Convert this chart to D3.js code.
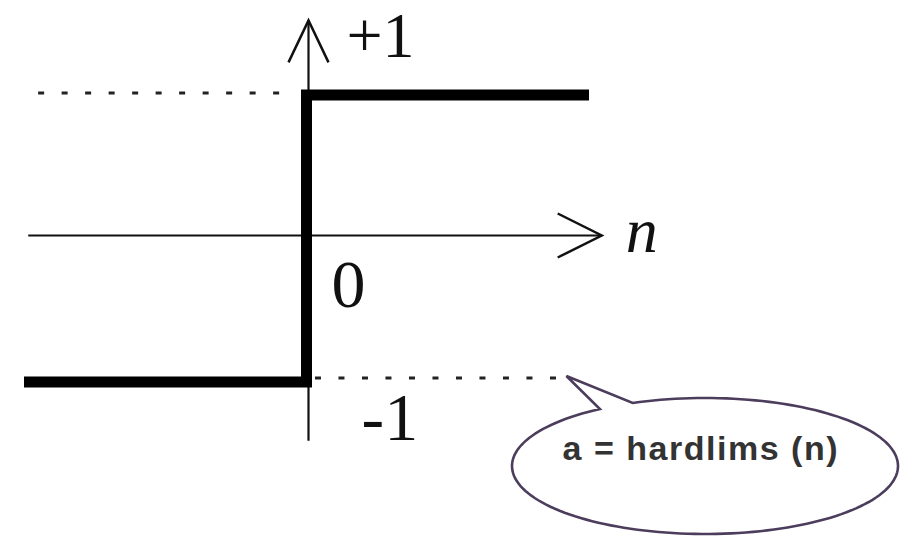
<!DOCTYPE html>
<html>
<head>
<meta charset="utf-8">
<script src="https://cdn.jsdelivr.net/npm/d3@7"></script>
<style>
  body { margin: 0; background: #fff; }
  svg { display: block; }
</style>
</head>
<body>
<svg id="chart" width="908" height="540"></svg>
<script>
// hardlims: a = -1 for n < 0, a = +1 for n >= 0
const stepN = [-1, 0, 0, 1];
const stepA = [-1, -1, 1, 1];

// dotted guide lines at the two levels
const guideA = [1, -1];
const guideFrom = [-0.95, 0.03];
const guideTo = [-0.08, 0.92];

// axis extents in data units
const axisN = [-0.985, 1.045];
const axisA = [-1.41, 1.52];

// tick labels
const tickLabels = ["+1", "0", "-1"];
const tickValues = [1, 0, -1];
const axisName = "n";
const calloutText = "a = hardlims (n)";

const svg = d3.select("#chart");

const x = d3.scaleLinear().domain([-1, 1]).range([24, 589]);
const y = d3.scaleLinear().domain([-1, 1]).range([382, 95]);
const axisY = y(0) - 3;

const serif = "'Liberation Serif', 'DejaVu Serif', serif";

// dotted lines
guideA.forEach((a, i) => {
  svg.append("line")
    .attr("x1", x(guideFrom[i]))
    .attr("x2", x(guideTo[i]))
    .attr("y1", y(a) - (a > 0 ? 2 : 4))
    .attr("y2", y(a) - (a > 0 ? 2 : 4))
    .attr("stroke", "#222")
    .attr("stroke-width", 3)
    .attr("stroke-dasharray", "6,17.5");
});

// axes
const arrow = 22;
svg.append("line")
  .attr("x1", x(axisN[0])).attr("x2", x(axisN[1]))
  .attr("y1", axisY).attr("y2", axisY)
  .attr("stroke", "#111").attr("stroke-width", 2.2);
svg.append("path")
  .attr("d", `M${x(axisN[1]) - 44},${axisY - arrow} L${x(axisN[1])},${axisY} L${x(axisN[1]) - 44},${axisY + arrow}`)
  .attr("fill", "none").attr("stroke", "#111").attr("stroke-width", 2.5);

svg.append("line")
  .attr("x1", x(0) + 2).attr("x2", x(0) + 2)
  .attr("y1", y(axisA[0])).attr("y2", y(axisA[1]))
  .attr("stroke", "#111").attr("stroke-width", 2.2);
svg.append("path")
  .attr("d", `M${x(0) + 2 - 20},${y(axisA[1]) + 42} L${x(0) + 2},${y(axisA[1])} L${x(0) + 2 + 20},${y(axisA[1]) + 42}`)
  .attr("fill", "none").attr("stroke", "#111").attr("stroke-width", 2.5);

// step function
const line = d3.line()
  .x((d, i) => x(d))
  .y((d, i) => y(stepA[i]));
svg.append("path")
  .datum(stepN)
  .attr("d", line)
  .attr("fill", "none")
  .attr("stroke", "#000")
  .attr("stroke-width", 11)
  .attr("stroke-linejoin", "miter");

// tick labels
const labelPos = {
  "+1": { dx: 40, dy: -38, size: 64 },
  "0": { dx: 25, dy: 68, size: 68 },
  "-1": { dx: 55, dy: 58, size: 68 }
};
tickLabels.forEach((t, i) => {
  svg.append("text")
    .attr("x", x(0) + labelPos[t].dx)
    .attr("y", y(tickValues[i]) + labelPos[t].dy)
    .attr("font-family", serif)
    .attr("font-size", labelPos[t].size)
    .attr("fill", "#111")
    .text(t);
});

svg.append("text")
  .attr("x", x(axisN[1]) + 24)
  .attr("y", axisY + 16)
  .attr("font-family", serif)
  .attr("font-style", "italic")
  .attr("font-size", 64)
  .attr("fill", "#111")
  .text(axisName);

// callout bubble
const cx = 705, cy = 466, rx = 193, ry = 68;
const tip = [x(0.92), y(-1) - 6];
const deg = Math.PI / 180;
const aRight = 248 * deg, aLeft = 237 * deg;
const bubble = d3.path();
bubble.moveTo(tip[0], tip[1]);
// trace the ellipse from the right tail base all the way round to the left one
const steps = 160;
const start = aRight, end = aLeft + 2 * Math.PI;
for (let k = 0; k <= steps; k++) {
  const t = start + (end - start) * k / steps;
  bubble.lineTo(cx + rx * Math.cos(t), cy + ry * Math.sin(t));
}
bubble.closePath();

svg.append("path")
  .attr("d", bubble.toString())
  .attr("fill", "#fff")
  .attr("stroke", "#4d3d5c")
  .attr("stroke-width", 2.6)
  .attr("stroke-linejoin", "miter");

svg.append("text")
  .attr("x", 700)
  .attr("y", 460)
  .attr("text-anchor", "middle")
  .attr("font-family", "'Liberation Sans', Arial, sans-serif")
  .attr("font-weight", "bold")
  .attr("font-size", 34)
  .attr("textLength", 275)
  .attr("fill", "#333")
  .text(calloutText);
</script>
</body>
</html>
